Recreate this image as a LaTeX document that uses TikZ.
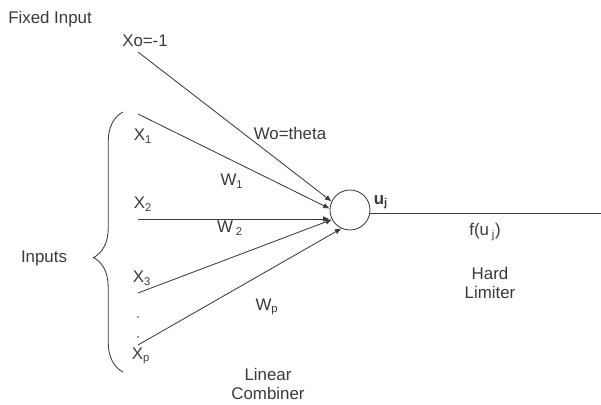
\documentclass[tikz,border=0pt]{standalone}
\usepackage{fontspec}
\setmainfont{Liberation Sans}
\usepackage{tikz}
\usetikzlibrary{arrows.meta,positioning,decorations.pathreplacing}
\definecolor{inkgray}{HTML}{3A3A3A}
\tikzset{
  lbl/.style={font=\fontsize{12}{14}\selectfont, text=inkgray, inner sep=0pt, align=center},
  neuron/.style={circle, draw=inkgray, line width=0.6pt, minimum size=1cm, inner sep=0pt},
  flow/.style={draw=inkgray, line width=0.6pt, -{Latex[length=1.6mm,width=1.4mm]}},
  wire/.style={draw=inkgray, line width=0.6pt},
  vdot/.style={circle, fill=inkgray, minimum size=1.4pt, inner sep=0pt},
}

\begin{document}
\begin{tikzpicture}[x=0.025cm,y=-0.025cm]
  \useasboundingbox (0,0) rectangle (601,405);
  % neuron and output
  \node[neuron] (sum) at (350,210) {};
  \node[lbl,font=\fontsize{12}{14}\selectfont\bfseries] (uj) at (381,202) {u\textsubscript{j}};
  \coordinate (out) at (601,213);
  \draw[wire] (sum.east |- out) -- (out);
  \node[lbl] (fu) at (485,232) {f(u\,\textsubscript{j})};
  \node[lbl] (hard) at (490,283) {Hard\\Limiter};
  % inputs
  \node[lbl] (fixed) at (50,19) {Fixed Input};
  \node[lbl] (x0) at (145,41) {Xo=-1};
  \node[lbl] (x1) at (143,136) {X\textsubscript{1}};
  \node[lbl] (x2) at (143,204) {X\textsubscript{2}};
  \node[lbl] (x3) at (142,278) {X\textsubscript{3}};
  \node[lbl] (xp) at (141,356) {X\textsubscript{p}};
  \node[vdot] (d1) at (138,317) {};
  \node[vdot] (d2) at (138,337) {};
  \coordinate (s0) at (138,52);  \coordinate (s1) at (138,114);
  \coordinate (s2) at (138,219); \coordinate (s3) at (138,293);
  \coordinate (sp) at (138,345);
  \draw[flow] (s0)--(sum.155); \draw[flow] (s1)--(sum.176);
  \draw[flow] (s2)--(s2 -| sum.west); \draw[flow] (s3)--(sum.208);
  \draw[flow] (sp)--(sum.245);
  % weights
  \node[lbl] (w0) at (290,133) {Wo=theta};
  \node[lbl] (w1) at (232,181) {W\textsubscript{1}};
  \node[lbl] (w2) at (230,228) {W\,\textsubscript{2}};
  \node[lbl] (wp) at (267,307) {W\textsubscript{p}};
  \node[lbl] (lin) at (268,384) {Linear\\Combiner};
  % brace
  \draw[wire, decorate, decoration={brace, amplitude=21pt, aspect=0.44}] (123,372) -- (123,112);
  \node[lbl] (inputs) at (44,258) {Inputs};
\end{tikzpicture}
\end{document}
